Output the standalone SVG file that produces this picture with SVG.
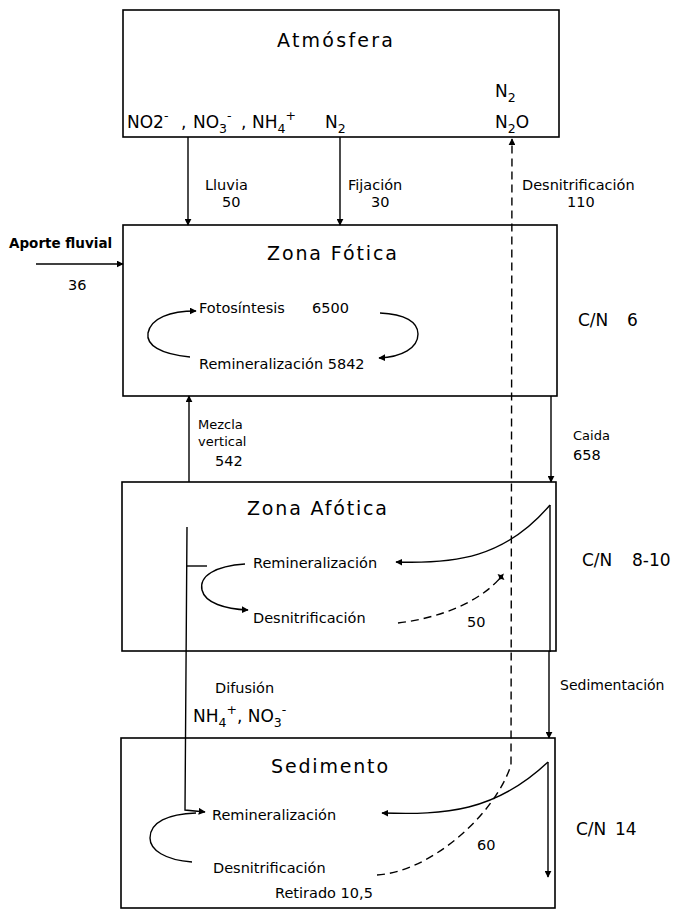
<svg xmlns="http://www.w3.org/2000/svg" width="675" height="911" viewBox="0 0 675 911">
<defs>
<marker id="ah" viewBox="0 0 10 10" refX="9" refY="5" markerWidth="7" markerHeight="7" orient="auto" markerUnits="userSpaceOnUse"><path d="M0,0 L10,5 L0,10 z" fill="#000"/></marker>
<marker id="star" viewBox="0 0 10 10" refX="5" refY="5" markerWidth="9" markerHeight="9" orient="auto" markerUnits="userSpaceOnUse"><path d="M5,0 L6.5,3.5 L10,5 L6.5,6.5 L5,10 L3.5,6.5 L0,5 L3.5,3.5 z" fill="#000"/></marker>
<style>
.box{fill:#fff;stroke:#000;stroke-width:1.6}
.ln{fill:none;stroke:#000;stroke-width:1.4}
.dash{fill:none;stroke:#000;stroke-width:1.4;stroke-dasharray:8 5}
text{font-family:"DejaVu Sans","Liberation Sans",sans-serif;fill:#000}
.title{font-size:19px}
.lab{font-size:14.5px}
.sm{font-size:13px}
.sed{font-size:14px}
.proc{font-size:14.5px}
.chem{font-size:17px}
.cn{font-size:17px}
.sub{font-size:12.5px}
</style>
</defs>
<rect width="675" height="911" fill="#fff"/>

<g id="atmosfera">
<rect class="box" x="123" y="10" width="436" height="127"/>
<text class="title" x="277" y="47" textLength="116" lengthAdjust="spacing">Atmósfera</text>
<text class="chem" x="127" y="128">NO2<tspan class="sub" dy="-8">-</tspan><tspan x="181" dy="8">,</tspan><tspan x="193">NO</tspan><tspan class="sub" dy="5">3</tspan><tspan class="sub" dy="-13">-</tspan><tspan x="241" dy="8">,</tspan><tspan x="252">NH</tspan><tspan class="sub" dy="5">4</tspan><tspan class="sub" dy="-13">+</tspan></text>
<text class="chem" x="325" y="128">N<tspan class="sub" dy="5">2</tspan></text>
<text class="chem" x="495" y="97">N<tspan class="sub" dy="5">2</tspan></text>
<text class="chem" x="495" y="128">N<tspan class="sub" dy="5">2</tspan><tspan dy="-5">O</tspan></text>
</g>

<g id="zona-fotica">
<rect class="box" x="123" y="225" width="434" height="171"/>
<text class="title" x="267" y="260" textLength="130" lengthAdjust="spacing">Zona  Fótica</text>
<text class="proc" x="199" y="313">Fotosíntesis<tspan x="312">6500</tspan></text>
<text class="proc" x="199" y="369">Remineralización 5842</text>
</g>

<g id="zona-afotica">
<rect class="box" x="122" y="482" width="434" height="169"/>
<text class="title" x="247" y="515" textLength="140" lengthAdjust="spacing">Zona  Afótica</text>
<text class="proc" x="253" y="568">Remineralización</text>
<text class="proc" x="253" y="623">Desnitrificación</text>
</g>

<g id="sedimento">
<rect class="box" x="121" y="738" width="434" height="170"/>
<text class="title" x="271" y="773" textLength="117" lengthAdjust="spacing">Sedimento</text>
<text class="proc" x="212" y="820">Remineralización</text>
<text class="proc" x="213" y="873">Desnitrificación</text>
<text class="proc" x="275" y="898">Retirado  10,5</text>
</g>

<g id="labels">
<text x="9" y="248" font-weight="bold" font-size="13.5">Aporte fluvial</text>
<text class="lab" x="68" y="290">36</text>
<text class="lab" x="205" y="190">Lluvia</text>
<text class="lab" x="222" y="207">50</text>
<text class="lab" x="348" y="190">Fijación</text>
<text class="lab" x="371" y="207">30</text>
<text class="lab" x="522" y="190">Desnitrificación</text>
<text class="lab" x="567" y="207">110</text>
<text class="sm" x="198" y="429">Mezcla</text>
<text class="sm" x="198" y="446">vertical</text>
<text class="lab" x="215" y="466">542</text>
<text class="sm" x="573" y="440">Caida</text>
<text class="lab" x="573" y="460">658</text>
<text class="sed" x="560" y="690">Sedimentación</text>
<text class="lab" x="215" y="693">Difusión</text>
<text class="chem" x="193" y="722">NH<tspan class="sub" dy="5">4</tspan><tspan class="sub" dy="-13">+</tspan><tspan dy="8">, NO</tspan><tspan class="sub" dy="5">3</tspan><tspan class="sub" dy="-13">-</tspan></text>
<text class="proc" x="467" y="627">50</text>
<text class="proc" x="477" y="850">60</text>
<text class="cn" x="578" y="326">C/N<tspan x="627">6</tspan></text>
<text class="cn" x="582" y="566">C/N<tspan x="632">8-10</tspan></text>
<text class="cn" x="576" y="835">C/N<tspan x="615">14</tspan></text>
</g>

<g id="connectors">
<line class="ln" x1="188" y1="137" x2="188" y2="225" marker-end="url(#ah)"/>
<line class="ln" x1="340" y1="137" x2="340" y2="225" marker-end="url(#ah)"/>
<line class="ln" x1="36" y1="264" x2="123" y2="264" marker-end="url(#ah)"/>
<line class="ln" x1="189" y1="482" x2="189" y2="396" marker-end="url(#ah)"/>
<line class="ln" x1="551" y1="396" x2="551" y2="482" marker-end="url(#ah)"/>
<path class="dash" d="M377 875 C430 872 495 815 511 765 L512 139" marker-end="url(#ah)"/>
<path class="ln" d="M190 357 C160 354 146 345 148 333 C151 318 170 311 196 311" marker-end="url(#ah)"/>
<path class="ln" d="M380 313 C405 314 418 322 418 334 C418 348 402 357 379 358" marker-end="url(#ah)"/>
<path class="ln" d="M550 505 C505 558 455 564 396 562" marker-end="url(#ah)"/>
<line class="ln" x1="550" y1="505" x2="550" y2="652"/>
<line class="ln" x1="549" y1="651" x2="549" y2="738" marker-end="url(#ah)"/>
<path class="ln" d="M245 564 C215 566 199 576 202 590 C205 603 225 609 248 610" marker-end="url(#ah)"/>
<path class="dash" d="M398 623 C440 618 480 602 501 577" marker-end="url(#star)"/>
<path class="ln" d="M187 527 L185 810 L205 812" marker-end="url(#ah)"/>
<line class="ln" x1="187" y1="566" x2="207" y2="566"/>
<path class="ln" d="M548 762 C495 812 445 815 382 813" marker-end="url(#ah)"/>
<line class="ln" x1="548" y1="762" x2="548" y2="877" marker-end="url(#ah)"/>
<path class="ln" d="M192 862 C165 860 150 850 150 838 C150 822 168 814 196 813"/>
</g>
</svg>
